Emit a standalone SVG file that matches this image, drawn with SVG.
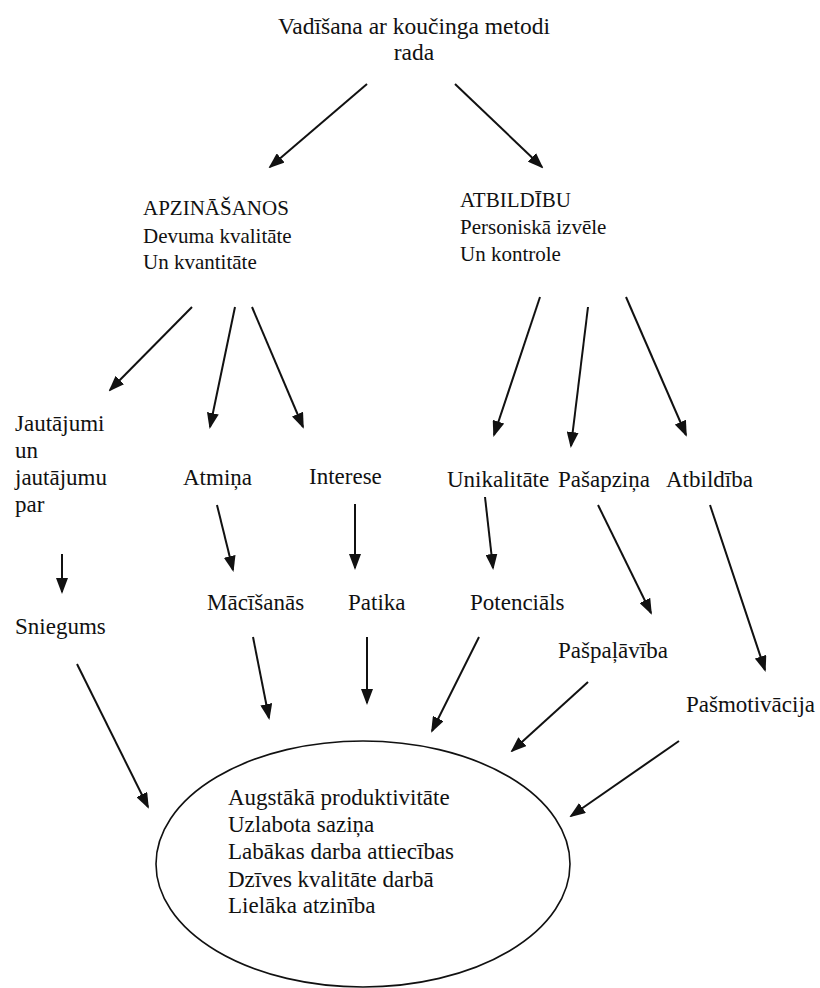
<svg xmlns="http://www.w3.org/2000/svg" width="820" height="988" viewBox="0 0 820 988">
  <defs>
    <style>
      text { font-family: "Liberation Serif", "Times New Roman", serif; font-size: 23px; fill: #111; }
      .title { font-size: 23.5px; text-anchor: middle; }
      .sub { font-size: 21px; }
      .conn line { stroke: #111; stroke-width: 2; marker-end: url(#head); }
      .outcome { fill: none; stroke: #111; stroke-width: 1.6; }
    </style>
    <marker id="head" markerUnits="userSpaceOnUse" markerWidth="16" markerHeight="12" refX="14" refY="6" orient="auto">
      <path d="M0,0 L16,6 L0,12 z" fill="#111"/>
    </marker>
  </defs>
  <rect width="820" height="988" fill="#fff"/>

  <g id="root">
    <text class="title" x="414" y="34">Vadīšana ar koučinga metodi</text>
    <text class="title" x="414" y="60">rada</text>
  </g>

  <g id="apzinasanos">
    <text class="sub" x="143" y="215">APZINĀŠANOS</text>
    <text class="sub" x="143" y="243">Devuma kvalitāte</text>
    <text class="sub" x="143" y="269">Un kvantitāte</text>
  </g>

  <g id="atbildibu">
    <text class="sub" x="460" y="207">ATBILDĪBU</text>
    <text class="sub" x="460" y="234">Personiskā izvēle</text>
    <text class="sub" x="460" y="261">Un kontrole</text>
  </g>

  <g id="jautajumi">
    <text x="15" y="431">Jautājumi</text>
    <text x="15" y="458">un</text>
    <text x="15" y="485">jautājumu</text>
    <text x="15" y="512">par</text>
  </g>
  <g id="atmina"><text x="183" y="485">Atmiņa</text></g>
  <g id="interese"><text x="309" y="484">Interese</text></g>
  <g id="unikalitate"><text x="447" y="487">Unikalitāte</text></g>
  <g id="pasapzina"><text x="558" y="487">Pašapziņa</text></g>
  <g id="atbildiba"><text x="666" y="487">Atbildība</text></g>

  <g id="sniegums"><text x="15" y="634">Sniegums</text></g>
  <g id="macisanas"><text x="207" y="610">Mācīšanās</text></g>
  <g id="patika"><text x="348" y="610">Patika</text></g>
  <g id="potencials"><text x="470" y="610">Potenciāls</text></g>
  <g id="paspalaviba"><text x="558" y="658">Pašpaļāvība</text></g>
  <g id="pasmotivacija"><text x="686" y="712">Pašmotivācija</text></g>

  <g id="rezultati">
    <ellipse class="outcome" cx="363" cy="864" rx="207" ry="123"/>
    <text x="228" y="805">Augstākā produktivitāte</text>
    <text x="228" y="832">Uzlabota saziņa</text>
    <text x="228" y="859">Labākas darba attiecības</text>
    <text x="228" y="887">Dzīves kvalitāte darbā</text>
    <text x="228" y="913">Lielāka atzinība</text>
  </g>

  <g id="connectors" class="conn">
    <line x1="367" y1="84" x2="270" y2="167"/>
    <line x1="455" y1="84" x2="542" y2="167"/>
    <line x1="192" y1="307" x2="110" y2="390"/>
    <line x1="235" y1="307" x2="210" y2="427"/>
    <line x1="252" y1="307" x2="303" y2="427"/>
    <line x1="540" y1="297" x2="494" y2="435"/>
    <line x1="588" y1="307" x2="571" y2="446"/>
    <line x1="626" y1="297" x2="686" y2="435"/>
    <line x1="62" y1="554" x2="62" y2="592"/>
    <line x1="217" y1="505" x2="233" y2="570"/>
    <line x1="355" y1="504" x2="355" y2="568"/>
    <line x1="485" y1="497" x2="493" y2="568"/>
    <line x1="598" y1="505" x2="651" y2="613"/>
    <line x1="710" y1="505" x2="765" y2="670"/>
    <line x1="77" y1="664" x2="148" y2="807"/>
    <line x1="253" y1="637" x2="269" y2="718"/>
    <line x1="367" y1="637" x2="367" y2="703"/>
    <line x1="479" y1="637" x2="432" y2="731"/>
    <line x1="588" y1="682" x2="512" y2="751"/>
    <line x1="679" y1="741" x2="571" y2="816"/>
  </g>
</svg>
